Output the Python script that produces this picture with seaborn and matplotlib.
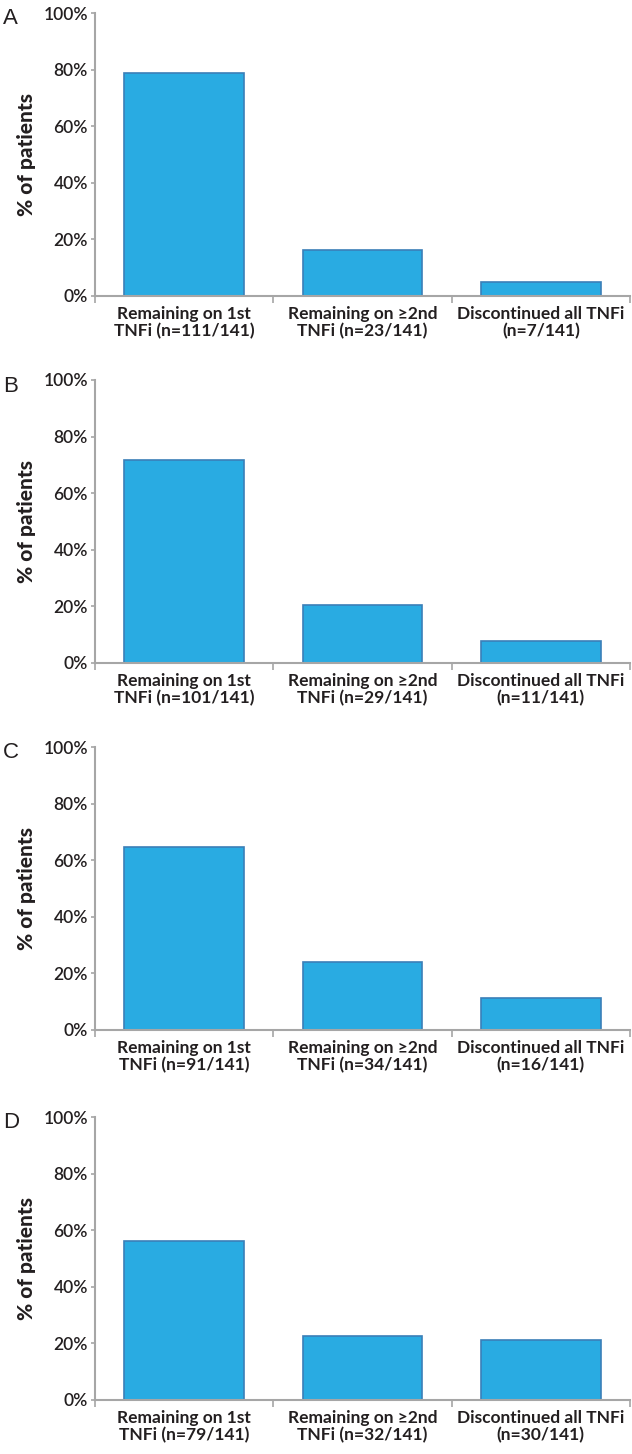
import matplotlib
matplotlib.use("Agg")
import matplotlib.pyplot as plt
import seaborn as sns
import pandas as pd
import numpy as np

categories = ["Remaining on 1st", "Remaining on ≥2nd", "Discontinued all TNFi"]
panels = ["A", "B", "C", "D"]
counts_A = [111, 23, 7]
counts_B = [101, 29, 11]
counts_C = [91, 34, 16]
counts_D = [79, 32, 30]
total = 141
yticks = [0, 20, 40, 60, 80, 100]

sns.set_theme(style="white")
plt.rcParams['font.family'] = ['Lato', 'DejaVu Sans']

fig = plt.figure(figsize=(6.32, 14.54), dpi=100)
bar_color = "#29ABE2"
edge_color = "#3B7FB8"
axis_color = "#A6A6A6"
text_color = "#231F20"

tops = [13, 380, 747, 1117]
H = 283
for letter, counts, top in zip(panels, [counts_A, counts_B, counts_C, counts_D], tops):
    pct = [c / total * 100 for c in counts]
    labels = [
        f"{categories[0]}\nTNFi (n={counts[0]}/{total})",
        f"{categories[1]}\nTNFi (n={counts[1]}/{total})",
        f"{categories[2]}\n(n={counts[2]}/{total})",
    ]
    df = pd.DataFrame({"cat": labels, "pct": pct})
    ax = fig.add_axes([95 / 632, 1 - (top + H) / 1454, 535 / 632, H / 1454])
    sns.barplot(data=df, x="cat", y="pct", color=bar_color, width=0.67,
                edgecolor=edge_color, linewidth=1.2, saturation=1, ax=ax)
    ax.set_xlim(-0.5, 2.5)
    ax.set_ylim(0, 100)
    ax.set_yticks(yticks)
    ax.set_yticklabels([f"{t}%" for t in yticks], fontsize=12.5, color=text_color,
                       fontweight="semibold")
    ax.set_xlabel("")
    ax.set_ylabel("% of patients", fontsize=15, fontweight="black", color=text_color, labelpad=5)
    ax.tick_params(axis="x", which="major", length=0, pad=7)
    ax.set_xticks([-0.5, 0.5, 1.5, 2.5], minor=True)
    ax.tick_params(axis="x", which="minor", length=5, color=axis_color, width=1.2, direction="out", bottom=True)
    ax.tick_params(axis="y", length=3, color=axis_color, width=1.2, direction="out", left=True, pad=2)
    for lab in ax.get_xticklabels():
        lab.set_fontsize(12.5)
        lab.set_fontweight("bold")
        lab.set_color(text_color)
        lab.set_linespacing(1.1)
    for s in ["top", "right"]:
        ax.spines[s].set_visible(False)
    for s in ["left", "bottom"]:
        ax.spines[s].set_color(axis_color)
        ax.spines[s].set_linewidth(1.5)
    fig.text(3 / 632, 1 - (top + 6) / 1454, letter, fontsize=16, color=text_color,
             ha="left", va="center", family=["Liberation Sans", "DejaVu Sans"])

fig.savefig("out.png", dpi=100)
